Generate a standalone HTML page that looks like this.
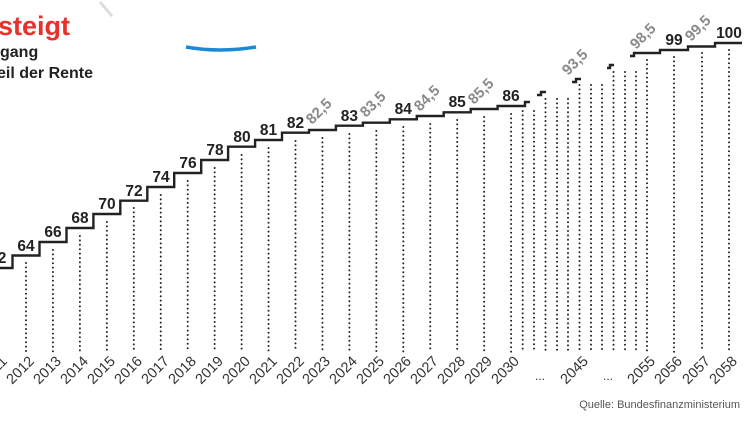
<!DOCTYPE html>
<html><head><meta charset="utf-8"><style>
html,body{margin:0;padding:0;background:#fff;}
svg{display:block;font-family:"Liberation Sans",sans-serif;}
</style></head><body>
<svg width="750" height="421" viewBox="0 0 750 421">
<line x1="100" y1="2" x2="112" y2="16" stroke="#ddd" stroke-width="3"/>
<path d="M186 47 Q220 53 256 47" stroke="#1a8ad4" stroke-width="3.5" fill="none"/>
<text x="-2" y="35" font-size="27" font-weight="bold" fill="#e8312a">steigt</text>
<text x="0" y="57" font-size="16" font-weight="bold" fill="#222">gang</text>
<text x="-3" y="78" font-size="16" font-weight="bold" fill="#222">eil der Rente</text>

<g stroke="#222" stroke-width="2" stroke-linecap="round" stroke-dasharray="0 4.4" fill="none">
<line x1="26" y1="263" x2="26" y2="352"/>
<line x1="52.95" y1="250" x2="52.95" y2="352"/>
<line x1="79.9" y1="236" x2="79.9" y2="352"/>
<line x1="106.85" y1="222" x2="106.85" y2="352"/>
<line x1="133.8" y1="208" x2="133.8" y2="352"/>
<line x1="160.75" y1="195" x2="160.75" y2="352"/>
<line x1="187.7" y1="181" x2="187.7" y2="352"/>
<line x1="214.65" y1="168" x2="214.65" y2="352"/>
<line x1="241.6" y1="155" x2="241.6" y2="352"/>
<line x1="268.55" y1="148" x2="268.55" y2="352"/>
<line x1="295.5" y1="141" x2="295.5" y2="352"/>
<line x1="322.45" y1="138" x2="322.45" y2="352"/>
<line x1="349.4" y1="134" x2="349.4" y2="352"/>
<line x1="376.35" y1="131" x2="376.35" y2="352"/>
<line x1="403.3" y1="127" x2="403.3" y2="352"/>
<line x1="430.25" y1="124" x2="430.25" y2="352"/>
<line x1="457.2" y1="120" x2="457.2" y2="352"/>
<line x1="484.15" y1="117" x2="484.15" y2="352"/>
<line x1="511.1" y1="114" x2="511.1" y2="352"/>
<line x1="522.7" y1="111" x2="522.7" y2="352"/>
<line x1="534" y1="111" x2="534" y2="352"/>
<line x1="545.5" y1="99" x2="545.5" y2="352"/>
<line x1="557" y1="99" x2="557" y2="352"/>
<line x1="568" y1="99" x2="568" y2="352"/>
<line x1="579.5" y1="85" x2="579.5" y2="352"/>
<line x1="591" y1="85" x2="591" y2="352"/>
<line x1="602" y1="85" x2="602" y2="352"/>
<line x1="613.5" y1="72" x2="613.5" y2="352"/>
<line x1="625" y1="72" x2="625" y2="352"/>
<line x1="636" y1="72" x2="636" y2="352"/>
<line x1="647" y1="60" x2="647" y2="352"/>
<line x1="674" y1="57" x2="674" y2="352"/>
<line x1="702" y1="53" x2="702" y2="352"/>
<line x1="729" y1="50" x2="729" y2="352"/>
</g>

<g stroke="#222" stroke-width="2.4" fill="none">
<path d="M0 268 H12.5 V255.5 H39.5 V242 H66.5 V228 H93.4 V214 H120.3 V200.7 H147.3 V187 H174.2 V173 H201.2 V160 H228.1 V146.7 H255.1 V140 H282 V132.7 H309 V130 H335.9 V125.7 H362.9 V122.7 H389.8 V119.3 H416.8 V116 H443.7 V112.3 H470.7 V109 H497.6 V106 H525 V102 H530"/>
<path d="M537 95 H541 V92 H546"/>
<path d="M572 82 H576 V79 H581"/>
<path d="M607 68 H610 V65 H614"/>
<path d="M630 56 H634 V53 H660 V50 H688 V46.5 H715 V43 H742"/>
</g>

<g font-size="15.5" font-weight="bold" fill="#222" text-anchor="middle">
<text x="2" y="263">2</text>
<text x="26" y="251">64</text>
<text x="53" y="237">66</text>
<text x="80" y="223">68</text>
<text x="107" y="209">70</text>
<text x="134" y="196">72</text>
<text x="161" y="182">74</text>
<text x="188" y="168">76</text>
<text x="215" y="155">78</text>
<text x="242" y="142">80</text>
<text x="268.5" y="135">81</text>
<text x="295.5" y="128">82</text>
<text x="349.4" y="121">83</text>
<text x="403.3" y="114">84</text>
<text x="457.2" y="107">85</text>
<text x="511" y="101">86</text>
<text x="674" y="45">99</text>
<text x="729" y="38">100</text>
</g>
<g font-size="15" font-weight="bold" fill="#8a8a8a">
<text transform="translate(312,125) rotate(-45)">82,5</text>
<text transform="translate(366,118) rotate(-45)">83,5</text>
<text transform="translate(420,112) rotate(-45)">84,5</text>
<text transform="translate(474,105) rotate(-45)">85,5</text>
<text transform="translate(568,76) rotate(-45)">93,5</text>
<text transform="translate(636,50) rotate(-45)">98,5</text>
<text transform="translate(691,42) rotate(-45)">99,5</text>
</g>

<g font-size="14.5" fill="#333" text-anchor="end">
<text transform="translate(8,362) rotate(-45)">2011</text>
<text transform="translate(35,362) rotate(-45)">2012</text>
<text transform="translate(62,362) rotate(-45)">2013</text>
<text transform="translate(89,362) rotate(-45)">2014</text>
<text transform="translate(116,362) rotate(-45)">2015</text>
<text transform="translate(143,362) rotate(-45)">2016</text>
<text transform="translate(170,362) rotate(-45)">2017</text>
<text transform="translate(197,362) rotate(-45)">2018</text>
<text transform="translate(224,362) rotate(-45)">2019</text>
<text transform="translate(251,362) rotate(-45)">2020</text>
<text transform="translate(278,362) rotate(-45)">2021</text>
<text transform="translate(305,362) rotate(-45)">2022</text>
<text transform="translate(331,362) rotate(-45)">2023</text>
<text transform="translate(358,362) rotate(-45)">2024</text>
<text transform="translate(385,362) rotate(-45)">2025</text>
<text transform="translate(412,362) rotate(-45)">2026</text>
<text transform="translate(439,362) rotate(-45)">2027</text>
<text transform="translate(466,362) rotate(-45)">2028</text>
<text transform="translate(493,362) rotate(-45)">2029</text>
<text transform="translate(520,362) rotate(-45)">2030</text>
<text transform="translate(589,362) rotate(-45)">2045</text>
<text transform="translate(656,362) rotate(-45)">2055</text>
<text transform="translate(683,362) rotate(-45)">2056</text>
<text transform="translate(711,362) rotate(-45)">2057</text>
<text transform="translate(738,362) rotate(-45)">2058</text>
</g>
<text x="540" y="380" font-size="12" fill="#333" text-anchor="middle">...</text>
<text x="608" y="380" font-size="12" fill="#333" text-anchor="middle">...</text>
<text x="740" y="408" font-size="11" fill="#555" text-anchor="end">Quelle: Bundesfinanzministerium</text>
</svg>
</body></html>
